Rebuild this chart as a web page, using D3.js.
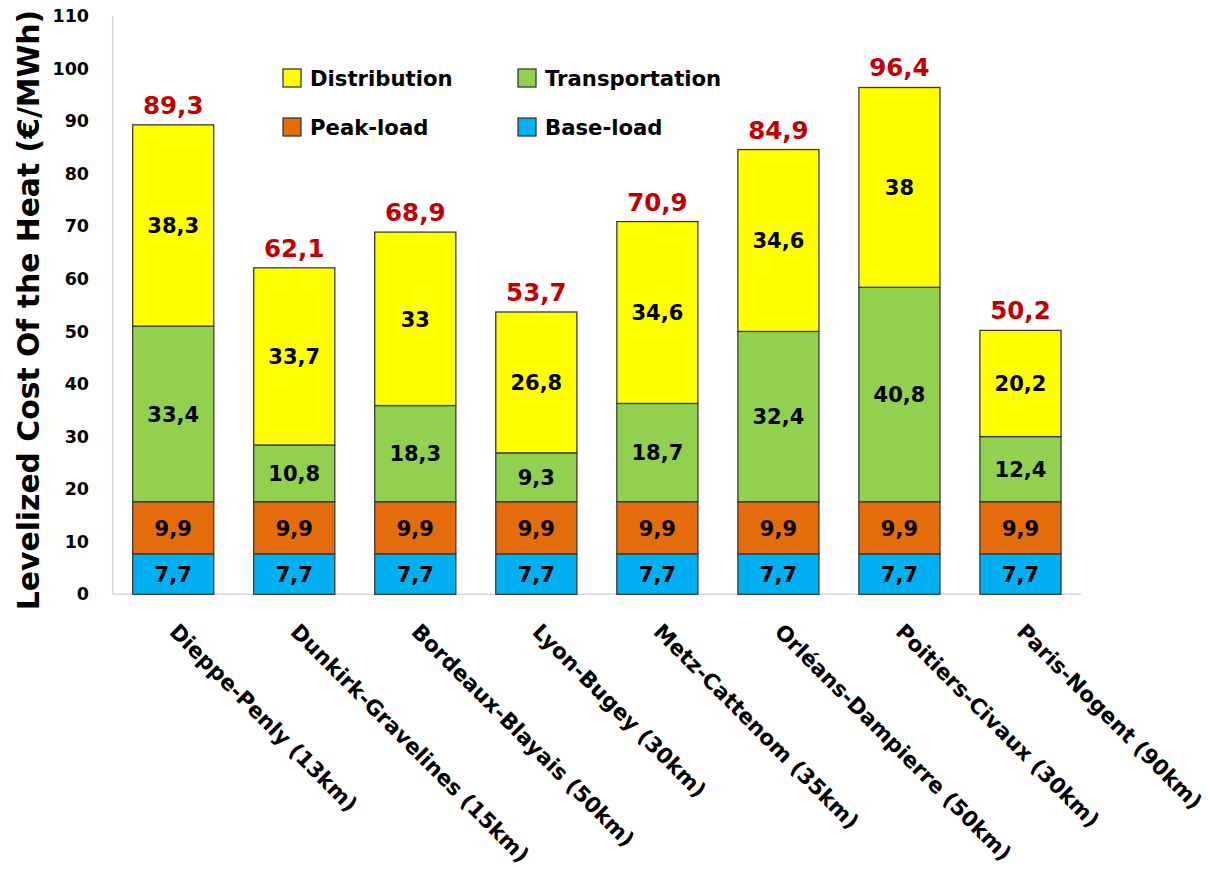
<!DOCTYPE html>
<html>
<head>
<meta charset="utf-8">
<script src="https://cdn.jsdelivr.net/npm/d3@7"></script>
<style>
  html, body { margin: 0; padding: 0; background: #fff; }
  svg { display: block; font-family: "DejaVu Sans", sans-serif; font-weight: bold; }
</style>
</head>
<body>
<svg id="chart" width="1210" height="872"></svg>
<script>
// ---- Data ----
const categories = [
  "Dieppe-Penly (13km)",
  "Dunkirk-Gravelines (15km)",
  "Bordeaux-Blayais (50km)",
  "Lyon-Bugey (30km)",
  "Metz-Cattenom (35km)",
  "Orléans-Dampierre (50km)",
  "Poitiers-Civaux (30km)",
  "Paris-Nogent (90km)"
];
const seriesNames = ["Base-load", "Peak-load", "Transportation", "Distribution"];
const baseLoad       = [7.7, 7.7, 7.7, 7.7, 7.7, 7.7, 7.7, 7.7];
const peakLoad       = [9.9, 9.9, 9.9, 9.9, 9.9, 9.9, 9.9, 9.9];
const transportation = [33.4, 10.8, 18.3, 9.3, 18.7, 32.4, 40.8, 12.4];
const distribution   = [38.3, 33.7, 33, 26.8, 34.6, 34.6, 38, 20.2];
const totals         = [89.3, 62.1, 68.9, 53.7, 70.9, 84.9, 96.4, 50.2];
const yTicks = [0, 10, 20, 30, 40, 50, 60, 70, 80, 90, 100, 110];
const yTitle = "Levelized Cost Of the Heat (€/MWh)";

const colors = {
  "Base-load": "#00B0F0",
  "Peak-load": "#E46C0A",
  "Transportation": "#92D050",
  "Distribution": "#FFFF00"
};

const seriesValues = {
  "Base-load": baseLoad,
  "Peak-load": peakLoad,
  "Transportation": transportation,
  "Distribution": distribution
};

const table = categories.map((c, i) => {
  const row = { category: c };
  seriesNames.forEach(s => row[s] = seriesValues[s][i]);
  return row;
});

// ---- Layout ----
const svg = d3.select("#chart");
const x = d3.scaleBand().domain(categories).range([112.7, 1081]).paddingInner(0.33).paddingOuter(0.165);
const y = d3.scaleLinear().domain([0, 110]).range([594.3, 16]);

const fmt = v => String(v).replace(".", ",");

// Axis lines
svg.append("line").attr("x1", x.range()[0]).attr("x2", x.range()[0])
  .attr("y1", y(110)).attr("y2", y(0))
  .attr("stroke", "#D9D9D9").attr("stroke-width", 1.5);
svg.append("line").attr("x1", x.range()[0]).attr("x2", x.range()[1])
  .attr("y1", y(0)).attr("y2", y(0))
  .attr("stroke", "#D9D9D9").attr("stroke-width", 1.5);

// Y tick labels
const yAxis = d3.axisLeft(y).tickValues(yTicks).tickSize(0).tickPadding(0).tickFormat(d3.format("d"));
const yg = svg.append("g").attr("transform", "translate(89,0)").call(yAxis);
yg.select(".domain").remove();
yg.selectAll("text").attr("font-family", "DejaVu Sans").attr("font-weight", "bold")
  .attr("font-size", 17.5).attr("fill", "#000");

// Y title
svg.append("text")
  .attr("transform", `translate(39,310) rotate(-90)`)
  .attr("text-anchor", "middle")
  .attr("font-size", 29.8)
  .attr("fill", "#000")
  .text(yTitle);

// Stacked bars
const stack = d3.stack().keys(seriesNames);
const stacked = stack(table);

const layers = svg.append("g").selectAll("g").data(stacked).join("g")
  .attr("fill", d => colors[d.key]);

layers.selectAll("rect").data(d => d).join("rect")
  .attr("x", d => x(d.data.category))
  .attr("width", x.bandwidth())
  .attr("y", d => y(d[1]))
  .attr("height", d => y(d[0]) - y(d[1]))
  .attr("stroke", "#3a3a3a")
  .attr("stroke-width", 1.3);

// Segment labels
layers.selectAll("text").data(d => d.map(v => ({ v, key: d.key }))).join("text")
  .attr("x", d => x(d.v.data.category) + x.bandwidth() / 2)
  .attr("y", d => (y(d.v[0]) + y(d.v[1])) / 2)
  .attr("dy", "0.37em")
  .attr("text-anchor", "middle")
  .attr("font-size", 21)
  .attr("fill", "#000")
  .text(d => fmt(d.v.data[d.key]));

// Total labels
const topLayer = stacked[stacked.length - 1];
svg.append("g").selectAll("text").data(topLayer).join("text")
  .attr("x", d => x(d.data.category) + x.bandwidth() / 2)
  .attr("y", d => y(d[1]) - 11)
  .attr("text-anchor", "middle")
  .attr("font-size", 24.5)
  .attr("fill", "#C00000")
  .text((d, i) => fmt(totals[i]));

// X labels
svg.append("g").selectAll("text").data(categories).join("text")
  .attr("transform", d => `translate(${x(d) + x.bandwidth() / 2 - 5},633) rotate(45)`)
  .attr("text-anchor", "start")
  .attr("font-size", 21.5)
  .attr("fill", "#000")
  .text(d => d);

// Legend
const legendOrder = ["Distribution", "Transportation", "Peak-load", "Base-load"];
const lg = svg.append("g").selectAll("g").data(legendOrder).join("g")
  .attr("transform", (d, i) => `translate(${i % 2 === 0 ? 283 : 518},${i < 2 ? 78 : 127})`);
lg.append("rect").attr("x", 0).attr("y", -9).attr("width", 18).attr("height", 18)
  .attr("fill", d => colors[d]).attr("stroke", "#3a3a3a").attr("stroke-width", 1.3);
lg.append("text").attr("x", 27).attr("y", 0).attr("dy", "0.37em")
  .attr("font-size", 21.2).attr("fill", "#000").text(d => d);
</script>
</body>
</html>
